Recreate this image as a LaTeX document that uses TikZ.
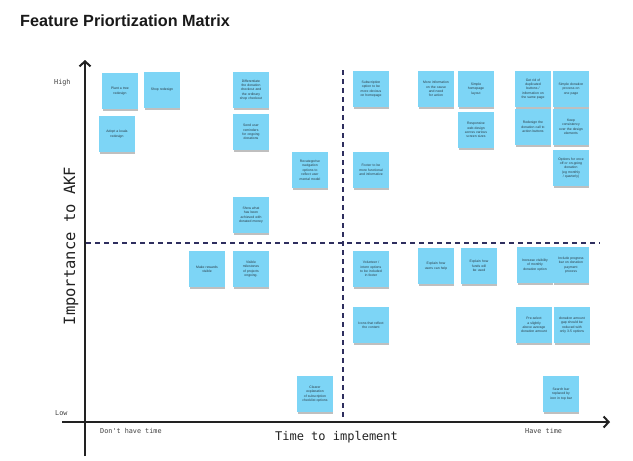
\documentclass[tikz,border=0pt]{standalone}
\usepackage{fontspec}
\setmainfont{Liberation Sans}
\newfontfamily\monofam{DejaVu Sans Mono}
\usetikzlibrary{arrows.meta,shadows}
\definecolor{notefill}{HTML}{7DD5F6}
\definecolor{notetext}{HTML}{2A3A44}
\definecolor{axisdark}{HTML}{222222}
\definecolor{divider}{HTML}{2E2E5E}
% tiny note text, with no hyphenation
\newcommand\stickyfont{\fontsize{3.4}{4.4}\selectfont\hyphenpenalty10000\exhyphenpenalty10000\relax}
\tikzset{
  sticky/.style={rectangle, fill=notefill, minimum width=36pt, minimum height=36pt,
    inner sep=1pt, text width=26pt, align=center, text=notetext,
    font=\stickyfont,
    drop shadow={shadow xshift=0.3pt, shadow yshift=-2.6pt, shadow scale=0.96,
      fill=black!55, opacity=0.45}},
  axisline/.style={line width=2.4pt, draw=axisdark, -{Straight Barb[length=5pt,width=11pt,line width=2pt]}},
  quadrant/.style={draw=divider, line width=1.2pt, dash pattern=on 5pt off 4pt},
  axislabel/.style={font=\monofam\fontsize{12}{14}\selectfont, text=axisdark, inner sep=0pt},
  ticklabel/.style={font=\monofam\fontsize{6.8}{8}\selectfont, text=black!75, inner sep=0pt},
}
\begin{document}
\begin{tikzpicture}[x=1pt,y=-1pt]
\useasboundingbox (0,0) rectangle (633,461);
\fill[white] (0,0) rectangle (633,461);

% title
\node[anchor=base west, inner sep=0pt, font=\bfseries\fontsize{16.2}{19}\selectfont, text=black!90] (title) at (20,26) {Feature Priortization Matrix};

% quadrant dividers
\coordinate (hdl) at (86,243);
\coordinate (hdr) at (600,243);
\coordinate (vdt) at (343,70);
\coordinate (vdb) at (343,417);
\draw[quadrant] (hdl) -- (hdr);
\draw[quadrant] (vdt) -- (vdb);

% axes
\coordinate (xstart) at (62,422);
\coordinate (xend) at (610,422);
\coordinate (ystart) at (85,456);
\coordinate (yend) at (85,60);
\draw[axisline] (xstart) -- (xend);
\draw[axisline] (ystart) -- (yend);

% axis labels
\node[ticklabel, anchor=base west] (high) at (54,84) {High};
\node[ticklabel, anchor=base west] (low) at (55,415) {Low};
\node[ticklabel, anchor=base west] (dont) at (100,433) {Don't have time};
\node[ticklabel, anchor=base west] (have) at (525,433) {Have time};
\node[axislabel] (xlabel) at (336.5,437) {Time to implement};
\node[axislabel, font=\monofam\fontsize{15.5}{17}\selectfont, rotate=90] (ylabel) at (71,246) {Importance to AKF};

% sticky notes, upper left
\node[sticky] (plant) at (120,91) {Plant a tree redesign};
\node[sticky] (shop) at (162,90) {Shop redesign};
\node[sticky] (koala) at (117,134) {Adopt a koala redesign};
\node[sticky] (diff) at (251,90) {Differentiate the donation checkout and the ordinary shop checkout};
\node[sticky] (remind) at (251,132) {Send user reminders for ongoing donations};
\node[sticky] (recat) at (310,170) {Recategorise navigation options to reflect user mental model};
\node[sticky] (achieved) at (251,215) {Show what has been achieved with donated money};

% sticky notes, upper right
\node[sticky] (subs) at (371,89) {Subscription option to be more obvious on homepage};
\node[sticky] (footer) at (371,170) {Footer to be more functional and informative};
\node[sticky] (moreinfo) at (436,89) {More information on the cause and need for action};
\node[sticky] (homepage) at (476,89) {Simple homepage layout};
\node[sticky] (responsive) at (476,130) {Responsive web design across various screen sizes};
\node[sticky] (duplicates) at (533,89) {Get rid of duplicated buttons / information on the same page};
\node[sticky] (onepage) at (571,89) {Simple donation process on one page};
\node[sticky] (cta) at (533,127) {Redesign the donation call to action buttons};
\node[sticky] (consistency) at (571,127) {Keep consistency over the design elements};
\node[sticky] (onceoff) at (571,168) {Options for once off or on-going donation (eg monthly / quarterly)};

% sticky notes, lower left
\node[sticky] (rewards) at (207,269) {Make rewards visible};
\node[sticky] (milestones) at (251,269) {Visible milestones of projects ongoing.};
\node[sticky] (clearer) at (315,394) {Clearer explanation of subscription checklist options};

% sticky notes, lower right
\node[sticky] (volunteer) at (371,269) {Volunteer / intern options to be included in footer};
\node[sticky] (help) at (436,266) {Explain how users can help};
\node[sticky] (funds) at (479,266) {Explain how funds will be used};
\node[sticky] (icons) at (371,325) {Icons that reflect the content};
\node[sticky] (monthly) at (535,265) {Increase visibility of monthly donation option};
\node[sticky] (progress) at (571,265) {Include progress bar on donation payment process};
\node[sticky] (preselect) at (534,325) {Pre-select a slightly above average donation amount};
\node[sticky] (gap) at (572,325) {donation amount gap should be reduced with only 3-5 options};
\node[sticky] (search) at (561,394) {Search bar replaced by icon in top bar};
\end{tikzpicture}
\end{document}
